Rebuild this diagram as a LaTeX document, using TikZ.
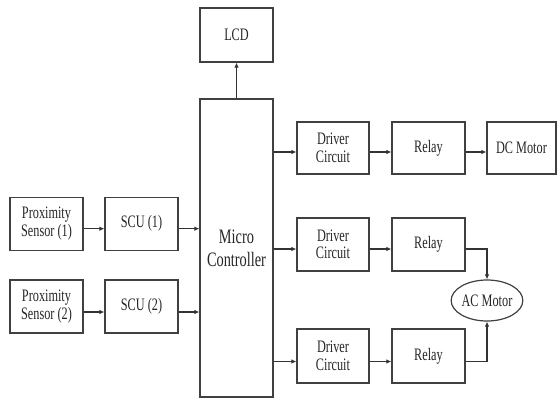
\documentclass[tikz,border=0pt]{standalone}
\usepackage{fontspec}
\setmainfont{Liberation Serif}[FakeStretch=0.7]
\usetikzlibrary{shapes.geometric,arrows.meta,calc}
\begin{document}
\begin{tikzpicture}[x=1pt,y=-1pt,
  blk/.style={draw=black!75,line width=1.2pt,minimum width=73pt,minimum height=53pt,inner sep=0pt,align=center,text=black!85,font=\fontsize{17.5}{17.5}\selectfont},
  arr/.style={draw=black!80,line width=1.1pt,-{Latex[length=5pt,width=4.5pt]}}]
\useasboundingbox (0,0) rectangle (557,399);
\fill[white] (0,0) rectangle (557,399);
\node[blk,minimum height=54pt] (lcd) at (236.5,35) {LCD};
\node[blk,minimum height=298pt,font=\fontsize{20.5}{22.7}\selectfont] (mc) at (236.5,248) {Micro\\Controller};
\node[blk] (ps1) at (46.5,223.7) {Proximity\\Sensor (1)};
\node[blk] (scu1) at (141.5,223.7) {SCU (1)};
\node[blk] (ps2) at (46.5,306.5) {Proximity\\Sensor (2)};
\node[blk] (scu2) at (141.5,306.5) {SCU (2)};
\node[blk,minimum width=72pt,minimum height=52pt] (d1) at (333,148) {Driver\\Circuit};
\node[blk,minimum height=52pt] (r1) at (428.5,148) {Relay};
\node[blk,minimum width=69pt,minimum height=52pt] (dc) at (521.5,148) {DC Motor};
\node[blk,minimum width=72pt] (d2) at (333,244.5) {Driver\\Circuit};
\node[blk] (r2) at (428.5,244.5) {Relay};
\node[blk,minimum width=72pt,minimum height=54pt] (d3) at (333,356) {Driver\\Circuit};
\node[blk,minimum height=54pt] (r3) at (428.5,356) {Relay};
\node[blk,ellipse,minimum width=69pt,minimum height=41pt] (ac) at (487,300.5) {AC Motor};
% connectors
\draw[arr] (mc.north) -- (lcd.south);
\draw[arr] ($(ps1.east)+(0,5)$) -- ($(scu1.west)+(0,5)$);
\draw[arr] ($(scu1.east)+(0,5)$) -- (mc.west |- {$(scu1.east)+(0,5)$});
\draw[arr] ($(ps2.east)+(0,5.5)$) -- ($(scu2.west)+(0,5.5)$);
\draw[arr] ($(scu2.east)+(0,5.5)$) -- (mc.west |- {$(scu2.east)+(0,5.5)$});
\draw[arr] (mc.east |- {$(d1.west)+(0,4)$}) -- ($(d1.west)+(0,4)$);
\draw[arr] ($(d1.east)+(0,4)$) -- ($(r1.west)+(0,4)$);
\draw[arr] ($(r1.east)+(0,4)$) -- ($(dc.west)+(0,4)$);
\draw[arr] (mc.east |- {$(d2.west)+(0,4.5)$}) -- ($(d2.west)+(0,4.5)$);
\draw[arr] ($(d2.east)+(0,4.5)$) -- ($(r2.west)+(0,4.5)$);
\draw[arr] ($(r2.east)+(0,4.5)$) -| (ac.north);
\draw[arr] (mc.east |- {$(d3.west)+(0,5.5)$}) -- ($(d3.west)+(0,5.5)$);
\draw[arr] ($(d3.east)+(0,5.5)$) -- ($(r3.west)+(0,5.5)$);
\draw[arr] ($(r3.east)+(0,5.5)$) -| (ac.south);
\end{tikzpicture}
\end{document}
